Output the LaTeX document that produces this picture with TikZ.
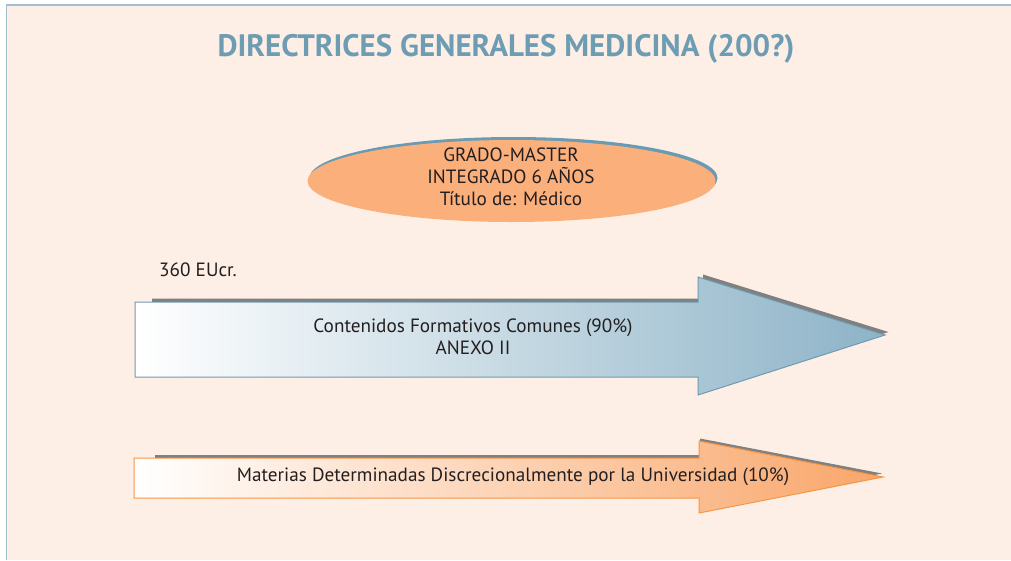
\documentclass[tikz,border=0pt]{standalone}
\usepackage{fontspec}
\setmainfont{PT Sans}
\usetikzlibrary{shapes.geometric}
\definecolor{bgpeach}{HTML}{FDEFE5}
\definecolor{framecol}{HTML}{A3BFCF}
\definecolor{titlecol}{HTML}{6E9DB3}
\definecolor{ellfill}{HTML}{FBAF7B}
\definecolor{ellshadow}{HTML}{6B9AB3}
\definecolor{txtcol}{HTML}{231F20}
\definecolor{blueedge}{HTML}{6E9BB2}
\definecolor{blueend}{HTML}{8DB3C7}
\definecolor{orangeedge}{HTML}{F79546}
\definecolor{orangeend}{HTML}{F9A66A}
\definecolor{shadowgray}{HTML}{808080}
\tikzset{
  bodytext/.style={text=txtcol, font=\fontsize{19.2}{22}\selectfont, align=center, inner sep=0pt},
  shadowfill/.style={fill=shadowgray, draw=none},
}
\begin{document}
\begin{tikzpicture}[x=1pt,y=-1pt]
\useasboundingbox (0,0) rectangle (1011,560);
\fill[white] (0,0) rectangle (1011,560);
\fill[bgpeach] (6.5,5) rectangle (1011,560);
\draw[framecol, line width=1.5pt] (6.5,560) -- (6.5,5) -- (1011,5);

\node[text=titlecol, font=\fontsize{31}{36}\selectfont\bfseries, inner sep=0pt] (title) at (506,49) {DIRECTRICES GENERALES MEDICINA (200?)};

% ellipse
\fill[ellshadow] (513.5,178) ellipse [x radius=204, y radius=41];
\fill[ellfill] (511.5,181) ellipse [x radius=204, y radius=41];
\node[bodytext] (grado) at (511,177) {GRADO-MASTER\\INTEGRADO 6 AÑOS\\Título de: Médico};

\node[bodytext, anchor=west] (eucr) at (159,270) {360 EUcr.};

% arrow 1
\fill[shadowfill] (152,298.5) -- (703,298.5) -- (703,274.5) -- (888.5,332) -- (703,392) -- (703,373) -- (152,373) -- cycle;
\draw[blueedge, line width=1pt, left color=white, right color=blueend] (135,302) -- (698,302) -- (698,277) -- (885,335) -- (698,395) -- (698,377) -- (135,377) -- cycle;
\node[bodytext] (contenidos) at (473,337) {Contenidos Formativos Comunes (90\%)\\ANEXO II};

% arrow 2
\fill[shadowfill] (155,455) -- (700,455) -- (700,438.5) -- (882,473.5) -- (700,510) -- (700,495) -- (155,495) -- cycle;
\draw[orangeedge, line width=1pt, left color=white, right color=orangeend] (134,458) -- (699,458) -- (699,441) -- (883,477) -- (699,513) -- (699,498) -- (134,498) -- cycle;
\node[bodytext] (materias) at (513,477) {Materias Determinadas Discrecionalmente por la Universidad (10\%)};
\end{tikzpicture}
\end{document}
